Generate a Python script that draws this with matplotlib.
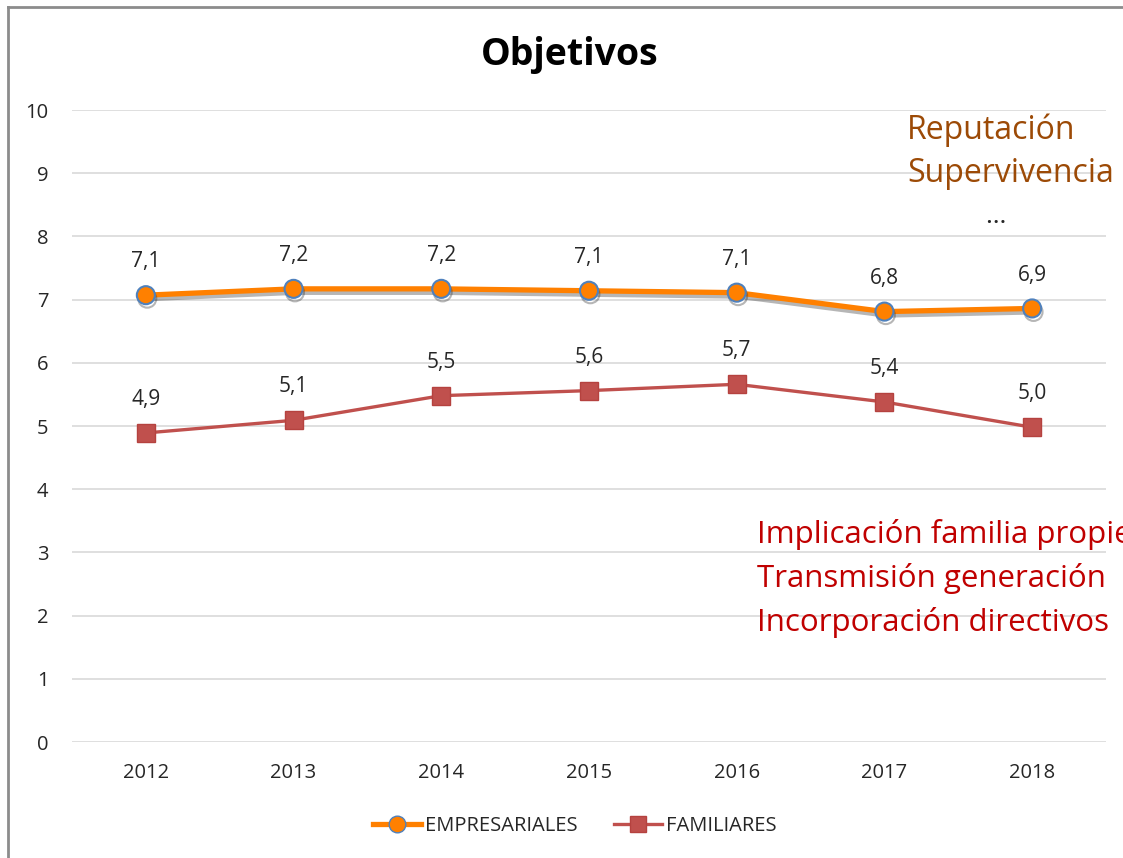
import matplotlib
matplotlib.use("Agg")
import matplotlib.pyplot as plt
import matplotlib.patheffects as pe
from matplotlib.lines import Line2D

plt.rcParams['font.family'] = ['Open Sans', 'DejaVu Sans']

years = ['2012', '2013', '2014', '2015', '2016', '2017', '2018']
empresariales = [7.07, 7.17, 7.17, 7.14, 7.11, 6.81, 6.86]
familiares = [4.89, 5.09, 5.48, 5.56, 5.66, 5.38, 4.98]
yticks = [0, 1, 2, 3, 4, 5, 6, 7, 8, 9, 10]
notes_emp = ['Reputación', 'Supervivencia']
notes_fam = ['Implicación familia propietaria', 'Transmisión generación', 'Incorporación directivos']

W, H = 1123, 858
fig = plt.figure(figsize=(W / 100, H / 100), dpi=100)
ax = fig.add_axes([72 / W, 1 - 742 / H, (1106 - 72) / W, (742 - 110) / H])

x = list(range(len(years)))
shadow = [pe.SimpleLineShadow(offset=(1, -2.5), shadow_color='#303030', alpha=0.35), pe.Normal()]
ax.plot(x, empresariales, color='#FF8000', lw=3.8, marker='o', ms=13,
        mfc='#FF8000', mec='#4F81BD', mew=1.5, zorder=4, path_effects=shadow,
        solid_capstyle='round')
ax.plot(x, familiares, color='#C0504D', lw=2.4, marker='s', ms=12.5,
        mfc='#C0504D', mec='#B5423F', mew=1, zorder=3)

for xi, v in zip(x, empresariales):
    ax.annotate(f'{v:.1f}'.replace('.', ','), (xi, v), xytext=(0, 24),
                textcoords='offset points', ha='center', va='center',
                fontsize=15, color='#262626')
for xi, v in zip(x, familiares):
    ax.annotate(f'{v:.1f}'.replace('.', ','), (xi, v), xytext=(0, 24),
                textcoords='offset points', ha='center', va='center',
                fontsize=15, color='#262626')

ax.set_xlim(-0.5, len(years) - 0.5)
ax.set_ylim(0, 10)
ax.set_yticks(yticks)
ax.set_xticks(x)
ax.set_xticklabels(years)
ax.tick_params(length=0, labelsize=14.5, labelcolor='#262626')
ax.tick_params(axis='x', pad=15)
ax.tick_params(axis='y', pad=17)
ax.grid(axis='y', color='#D9D9D9', lw=1.2)
ax.set_axisbelow(True)
for s in ax.spines.values():
    s.set_visible(False)

fig.text(570 / W, 1 - 55 / H, 'Objetivos', ha='center', va='center',
         fontsize=27, fontweight='bold', color='#000000')

# annotations
fig.text(907 / W, 1 - 130 / H, notes_emp[0], ha='left', va='center', fontsize=23, color='#9C4A06')
fig.text(907 / W, 1 - 173 / H, notes_emp[1], ha='left', va='center', fontsize=23, color='#9C4A06')
fig.text(995 / W, 1 - 217 / H, '…', ha='center', va='center', fontsize=19, color='#262626')
for i, t in enumerate(notes_fam):
    fig.text(757 / W, 1 - (535 + 44 * i) / H, t, ha='left', va='center',
             fontsize=22.5, color='#C00000')

handles = [
    Line2D([], [], color='#FF8000', lw=3.8, marker='o', ms=12, mfc='#FF8000', mec='#4F81BD'),
    Line2D([], [], color='#C0504D', lw=2.4, marker='s', ms=12, mfc='#C0504D', mec='#B5423F'),
]
fig.legend(handles, ['EMPRESARIALES', 'FAMILIARES'], loc='center',
           bbox_to_anchor=(575 / W, 1 - 826 / H), ncol=2, frameon=False,
           fontsize=14.5, handlelength=2.4, handletextpad=0.2, columnspacing=1.8,
           labelcolor='#262626')

# outer border (left and top visible)
fig.add_artist(Line2D([8 / W, 8 / W], [0, 1 - 7 / H], color='#8C8C8C', lw=2, transform=fig.transFigure))
fig.add_artist(Line2D([8 / W, 1], [1 - 7 / H, 1 - 7 / H], color='#8C8C8C', lw=2, transform=fig.transFigure))

fig.savefig('out.png', dpi=100)
